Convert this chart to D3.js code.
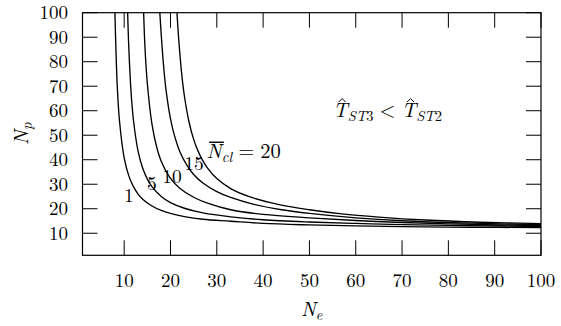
<!DOCTYPE html>
<html><head><meta charset="utf-8">
<script src="https://cdn.jsdelivr.net/npm/d3@7"></script>
<style>
body{margin:0;background:#fff}
</style>
</head><body>
<svg id="c" width="561" height="326"></svg>
<script>
// ---- data ----
const xTicks = [10, 20, 30, 40, 50, 60, 70, 80, 90, 100];
const yTicks = [10, 20, 30, 40, 50, 60, 70, 80, 90, 100];
const curveLabels = ["1", "5", "10", "15", "20"];

const ne1  = [8.0, 8.5, 9, 10, 11, 12, 13, 14, 16, 18, 20, 23, 27, 33, 40, 50, 60, 70, 85, 100];
const np1  = [100, 70.3, 55.6, 40.8, 33.4, 29.0, 26.0, 23.9, 21.1, 19.3, 18.1, 16.8, 15.7, 14.9, 14.0, 13.4, 13.0, 12.7, 12.45, 12.3];
const ne5  = [10.75, 11, 11.5, 12, 13, 14, 15, 16, 18, 20, 23, 27, 33, 40, 50, 60, 70, 85, 100];
const np5  = [100, 85.6, 67.2, 56.2, 43.5, 36.5, 32.1, 29.0, 25.0, 22.5, 20.2, 18.3, 16.7, 15.5, 14.6, 14.0, 13.5, 13.1, 12.75];
const ne10 = [14.2, 14.5, 15, 16, 17, 18, 20, 22, 25, 28, 33, 40, 50, 60, 70, 85, 100];
const np10 = [100, 85.5, 71.1, 54.5, 45.3, 39.4, 32.4, 28.4, 24.7, 22.3, 19.6, 17.7, 16.3, 15.2, 14.4, 13.6, 13.1];
const ne15 = [17.7, 18, 18.5, 19, 20, 21, 22, 23.5, 25, 27, 30, 33, 38, 44, 50, 60, 70, 85, 100];
const np15 = [100, 91, 78.5, 69, 56.7, 48.9, 43.4, 37.9, 34, 30.5, 27, 24.6, 21.8, 19.6, 18.1, 16.3, 15.1, 14.1, 13.5];
const ne20 = [21.4, 21.8, 22.5, 23, 24, 25, 26, 27, 28, 30, 33, 37, 43.7, 50, 57, 65, 75, 87, 100];
const np20 = [100, 88.5, 73.5, 66, 55.4, 48.3, 43.3, 39.5, 36.6, 32.3, 28.2, 24.9, 21.6, 19.6, 17.9, 16.6, 15.4, 14.5, 13.9];

const series = [
  {label: curveLabels[0], ne: ne1,  np: np1},
  {label: curveLabels[1], ne: ne5,  np: np5},
  {label: curveLabels[2], ne: ne10, np: np10},
  {label: curveLabels[3], ne: ne15, np: np15},
  {label: curveLabels[4], ne: ne20, np: np20}
];

// ---- layout ----
const FONT = "'Latin Modern Roman', 'CMU Serif', 'Liberation Serif', 'Times New Roman', Times, 'Nimbus Roman', 'TeX Gyre Termes', FreeSerif, 'DejaVu Serif', serif";
const svg = d3.select("#c");
const L = 82.5, R = 541, T = 12.7, B = 255.3;
const x = d3.scaleLinear().domain([1, 100]).range([L, R]);
const y = d3.scaleLinear().domain([1, 100]).range([B, T]);
const tickLen = 15;

svg.append("defs").append("clipPath").attr("id", "clip")
  .append("rect").attr("x", L).attr("y", T).attr("width", R - L).attr("height", B - T);

// ticks (inward, mirrored)
const g = svg.append("g").attr("stroke", "#000").attr("stroke-width", 1);
xTicks.forEach(v => {
  g.append("line").attr("x1", x(v)).attr("x2", x(v)).attr("y1", B).attr("y2", B - tickLen);
  g.append("line").attr("x1", x(v)).attr("x2", x(v)).attr("y1", T).attr("y2", T + tickLen);
});
yTicks.forEach(v => {
  g.append("line").attr("x1", L).attr("x2", L + tickLen).attr("y1", y(v)).attr("y2", y(v));
  g.append("line").attr("x1", R).attr("x2", R - tickLen).attr("y1", y(v)).attr("y2", y(v));
});

function txt(sel) { return sel.style("font-family", FONT).attr("fill", "#000"); }

// tick labels
txt(svg.append("g").selectAll("text").data(xTicks).join("text"))
  .attr("x", d => x(d)).attr("y", 287).attr("text-anchor", "middle")
  .attr("font-size", 19).text(d => d);
txt(svg.append("g").selectAll("text").data(yTicks).join("text"))
  .attr("x", L - 14.5).attr("y", d => y(d)).attr("dy", "0.34em").attr("text-anchor", "end")
  .attr("font-size", 19).text(d => d);

// curves
const line = d3.line().x(d => x(d[0])).y(d => y(d[1])).curve(d3.curveCatmullRom.alpha(0.5));
svg.append("g").attr("clip-path", "url(#clip)").selectAll("path").data(series).join("path")
  .attr("d", s => line(s.ne.map((v, i) => [v, s.np[i]])))
  .attr("fill", "none").attr("stroke", "#000").attr("stroke-width", 1.35);

// frame
svg.append("rect").attr("x", L).attr("y", T).attr("width", R - L).attr("height", B - T)
  .attr("fill", "none").attr("stroke", "#000").attr("stroke-width", 1.2);

// curve labels (anchored in data units)
const labelAt = [[11.0, 22.8], [16.0, 27.6], [20.3, 30.5], [25.1, 35.8]];
labelAt.forEach((p, i) => {
  txt(svg.append("text")).attr("x", x(p[0])).attr("y", y(p[1])).attr("text-anchor", "middle")
    .attr("font-size", 19.5).text(curveLabels[i]);
});
// N̄cl = 20
const nBase = y(40.6);
const nl = txt(svg.append("text")).attr("x", x(27.8)).attr("y", nBase).attr("font-size", 20.5);
nl.append("tspan").attr("font-style", "italic").text("N");
nl.append("tspan").attr("font-style", "italic").attr("font-size", 14.5).attr("dy", 4).text("cl");
nl.append("tspan").attr("dy", -4).attr("dx", 6).text("=");
nl.append("tspan").attr("dx", 6).text(curveLabels[4]);
const nb = nl.node().getExtentOfChar(0);
svg.append("line").attr("x1", nb.x + 2.5).attr("x2", nb.x + nb.width + 2)
  .attr("y1", nBase - 16).attr("y2", nBase - 16).attr("stroke", "#000").attr("stroke-width", 1.4);

// T̂ST3 < T̂ST2
const tBase = y(57.4);
const tt = txt(svg.append("text")).attr("x", x(55.1)).attr("y", tBase).attr("font-size", 20.5);
tt.append("tspan").attr("font-style", "italic").text("T");
tt.append("tspan").attr("font-style", "italic").attr("font-size", 14.5).attr("dy", 4).text("ST");
tt.append("tspan").attr("font-size", 14.5).text("3");
tt.append("tspan").attr("dy", -4).attr("dx", 6).text("<");
tt.append("tspan").attr("dx", 6).attr("font-style", "italic").text("T");
tt.append("tspan").attr("font-style", "italic").attr("font-size", 14.5).attr("dy", 4).text("ST");
tt.append("tspan").attr("font-size", 14.5).text("2");
[0, 5].forEach(ci => {
  const b = tt.node().getExtentOfChar(ci);
  const cx = b.x + b.width * 0.62;
  svg.append("path")
    .attr("d", `M${cx - 3.5},${tBase - 15}L${cx},${tBase - 18.5}L${cx + 3.5},${tBase - 15}`)
    .attr("fill", "none").attr("stroke", "#000").attr("stroke-width", 1);
});

// axis titles
const xt = txt(svg.append("text")).attr("x", (L + R) / 2).attr("y", 316).attr("text-anchor", "middle").attr("font-size", 20);
xt.append("tspan").attr("font-style", "italic").text("N");
xt.append("tspan").attr("font-style", "italic").attr("font-size", 14.5).attr("dy", 4).text("e");
const yt = txt(svg.append("text")).attr("transform", `translate(28,${(T + B) / 2}) rotate(-90)`)
  .attr("text-anchor", "middle").attr("font-size", 20.5);
yt.append("tspan").attr("font-style", "italic").text("N");
yt.append("tspan").attr("font-style", "italic").attr("font-size", 14.5).attr("dy", 4).text("p");
</script>
</body></html>
